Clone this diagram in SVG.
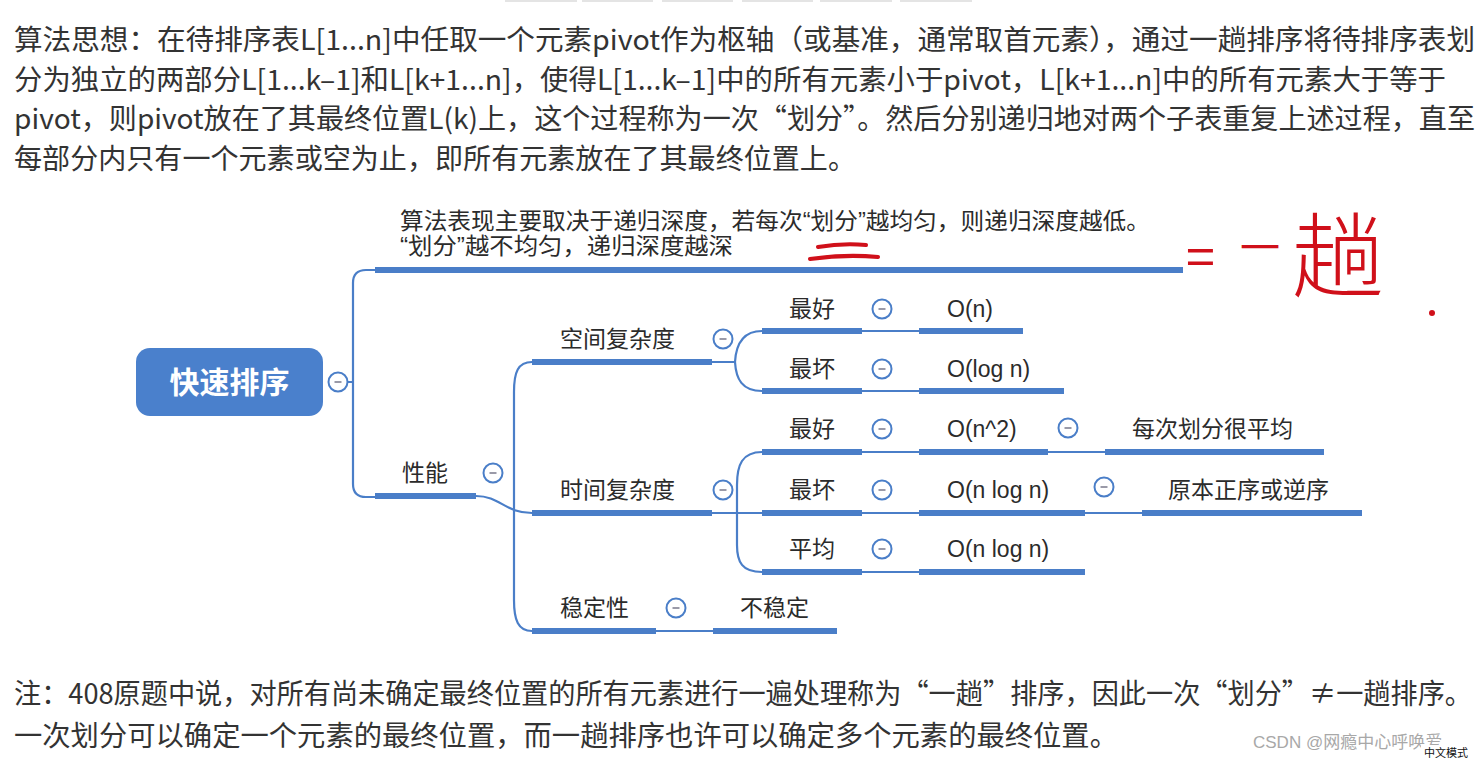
<svg xmlns="http://www.w3.org/2000/svg" width="1479" height="760" viewBox="0 0 1479 760">
<style>
.p{font-family:"Noto Sans CJK SC","Liberation Sans",sans-serif;font-size:28px;fill:#333}
.l{font-family:"Liberation Sans","Noto Sans CJK SC",sans-serif;font-size:23px;fill:#2b2b2b}
.bar{fill:#4a7ec8}
.c{stroke:#4a7ec8;stroke-width:2.2;fill:none}
.hw{fill:#d0101a;font-family:"Noto Sans CJK SC",sans-serif}
</style>
<defs>
<g id="b"><circle r="9.5" fill="#fff" stroke="#4a7ec8" stroke-width="2"/><line x1="-3.5" y1="0" x2="3.5" y2="0" stroke="#9a9aa8" stroke-width="2"/></g>
</defs>
<rect width="1479" height="760" fill="#fff"/>
<g fill="#e4e4e4">
<rect x="505" y="0" width="72" height="2"/><rect x="582" y="0" width="71" height="2"/><rect x="662" y="0" width="71" height="2"/><rect x="742" y="0" width="71" height="2"/><rect x="820" y="0" width="72" height="2"/><rect x="900" y="0" width="72" height="2"/>
</g>
<g id="intro">
<text class="p" x="14" y="50" textLength="1461" lengthAdjust="spacingAndGlyphs">算法思想：在待排序表L[1...n]中任取一个元素pivot作为枢轴（或基准，通常取首元素），通过一趟排序将待排序表划</text>
<text class="p" x="14" y="89.5" textLength="1432" lengthAdjust="spacingAndGlyphs">分为独立的两部分L[1...k–1]和L[k+1...n]，使得L[1...k–1]中的所有元素小于pivot，L[k+1...n]中的所有元素大于等于</text>
<text class="p" x="14" y="129" textLength="1461" lengthAdjust="spacingAndGlyphs">pivot，则pivot放在了其最终位置L(k)上，这个过程称为一次“划分”。然后分别递归地对两个子表重复上述过程，直至</text>
<text class="p" x="14" y="168.5" textLength="842" lengthAdjust="spacingAndGlyphs">每部分内只有一个元素或空为止，即所有元素放在了其最终位置上。</text>
</g>
<g id="connectors">
<path class="c" d="M347,382 H353 M375,270 H366 Q353,270 353,283 V484 Q353,497 366,497 H375"/>
<path class="c" d="M476,496 C500,496 505,513 532,513 M532,362 C518,362 514,372 514,392 V600 C514,620 518,631 532,631"/>
<path class="c" d="M712,362 H735 M762,331 C742,331 736,345 735,362 C736,379 742,391 762,391"/>
<path class="c" d="M712,513 H762 M762,452 C742,452 737,465 737,485 V545 C737,562 742,572 762,572"/>
<path class="c" d="M862,331 H919 M862,391 H919 M862,452 H919 M862,513 H919 M862,572 H919 M1048,452 H1105 M1085,513 H1142 M656,631 H713"/>
</g>
<g id="root">
<rect x="136" y="348" width="187" height="68" rx="14" fill="#4a80cc"/>
<text x="229.5" y="393" text-anchor="middle" style="font-family:'Noto Sans CJK SC',sans-serif;font-size:30px;font-weight:bold;fill:#fff">快速排序</text>
<use href="#b" x="338" y="382"/>
</g>
<g id="note">
<text class="l" x="400" y="229" textLength="750" lengthAdjust="spacingAndGlyphs">算法表现主要取决于递归深度，若每次“划分”越均匀，则递归深度越低。</text>
<text class="l" x="400" y="254" textLength="333" lengthAdjust="spacingAndGlyphs">“划分”越不均匀，递归深度越深</text>
<rect class="bar" x="375" y="267" width="808" height="6"/>
</g>
<g id="perf"><text class="l" x="402" y="481">性能</text><rect class="bar" x="375" y="493" width="101" height="6"/><use href="#b" x="493" y="473"/></g>
<g id="space"><text class="l" x="560" y="347">空间复杂度</text><rect class="bar" x="532" y="359" width="180" height="6"/><use href="#b" x="723" y="339"/></g>
<g id="time"><text class="l" x="560" y="498">时间复杂度</text><rect class="bar" x="532" y="510" width="180" height="6"/><use href="#b" x="723" y="490"/></g>
<g id="stab"><text class="l" x="560" y="616">稳定性</text><rect class="bar" x="532" y="628" width="124" height="6"/><use href="#b" x="676" y="608"/></g>
<g id="unstable"><text class="l" x="740" y="616">不稳定</text><rect class="bar" x="713" y="628" width="124" height="6"/></g>
<g id="s-best"><text class="l" x="789" y="317">最好</text><rect class="bar" x="762" y="328" width="100" height="6"/><use href="#b" x="882" y="309"/></g>
<g id="s-best-v"><text class="l" x="947" y="317">O(n)</text><rect class="bar" x="919" y="328" width="104" height="6"/></g>
<g id="s-worst"><text class="l" x="789" y="377">最坏</text><rect class="bar" x="762" y="388" width="100" height="6"/><use href="#b" x="882" y="369"/></g>
<g id="s-worst-v"><text class="l" x="947" y="377">O(log n)</text><rect class="bar" x="919" y="388" width="145" height="6"/></g>
<g id="t-best"><text class="l" x="789" y="437">最好</text><rect class="bar" x="762" y="449" width="100" height="6"/><use href="#b" x="882" y="429"/></g>
<g id="t-best-v"><text class="l" x="947" y="437">O(n^2)</text><rect class="bar" x="919" y="449" width="129" height="6"/><use href="#b" x="1068" y="428"/></g>
<g id="t-best-r"><text class="l" x="1132" y="437">每次划分很平均</text><rect class="bar" x="1105" y="449" width="219" height="6"/></g>
<g id="t-worst"><text class="l" x="789" y="498">最坏</text><rect class="bar" x="762" y="510" width="100" height="6"/><use href="#b" x="882" y="490"/></g>
<g id="t-worst-v"><text class="l" x="947" y="498">O(n log n)</text><rect class="bar" x="919" y="510" width="166" height="6"/><use href="#b" x="1104" y="487"/></g>
<g id="t-worst-r"><text class="l" x="1168" y="498">原本正序或逆序</text><rect class="bar" x="1142" y="510" width="220" height="6"/></g>
<g id="t-avg"><text class="l" x="789" y="557">平均</text><rect class="bar" x="762" y="569" width="100" height="6"/><use href="#b" x="882" y="549"/></g>
<g id="t-avg-v"><text class="l" x="947" y="557">O(n log n)</text><rect class="bar" x="919" y="569" width="166" height="6"/></g>
<g id="handwriting">
<path d="M818,247 Q842,243 866,245 M810,259 Q845,254 878,257" stroke="#d0101a" stroke-width="4" fill="none" stroke-linecap="round"/>
<text class="hw" x="1186" y="276" style="font-size:52px">=</text>
<text class="hw" x="1240" y="262" style="font-size:40px">一</text>
<text class="hw" x="1292" y="290" style="font-size:92px;font-weight:300">趟</text>
<circle cx="1432" cy="313" r="3" fill="#d0101a"/>
</g>
<g id="footer">
<text class="p" x="14" y="704" textLength="1458" lengthAdjust="spacingAndGlyphs">注：408原题中说，对所有尚未确定最终位置的所有元素进行一遍处理称为“一趟”排序，因此一次“划分”≠一趟排序。</text>
<text class="p" x="14" y="746" textLength="1104" lengthAdjust="spacingAndGlyphs">一次划分可以确定一个元素的最终位置，而一趟排序也许可以确定多个元素的最终位置。</text>
</g>
<g id="watermark">
<text x="1253" y="748" style="font-family:'Liberation Sans','Noto Sans CJK SC',sans-serif;font-size:17px;fill:#a8a8a8">CSDN @网瘾中心呼唤爱</text>
<rect x="1421" y="745" width="58" height="15" fill="#fff"/>
<text x="1424" y="757" style="font-family:'Noto Sans CJK SC',sans-serif;font-size:11px;fill:#111">中文模式</text>
</g>
</svg>
